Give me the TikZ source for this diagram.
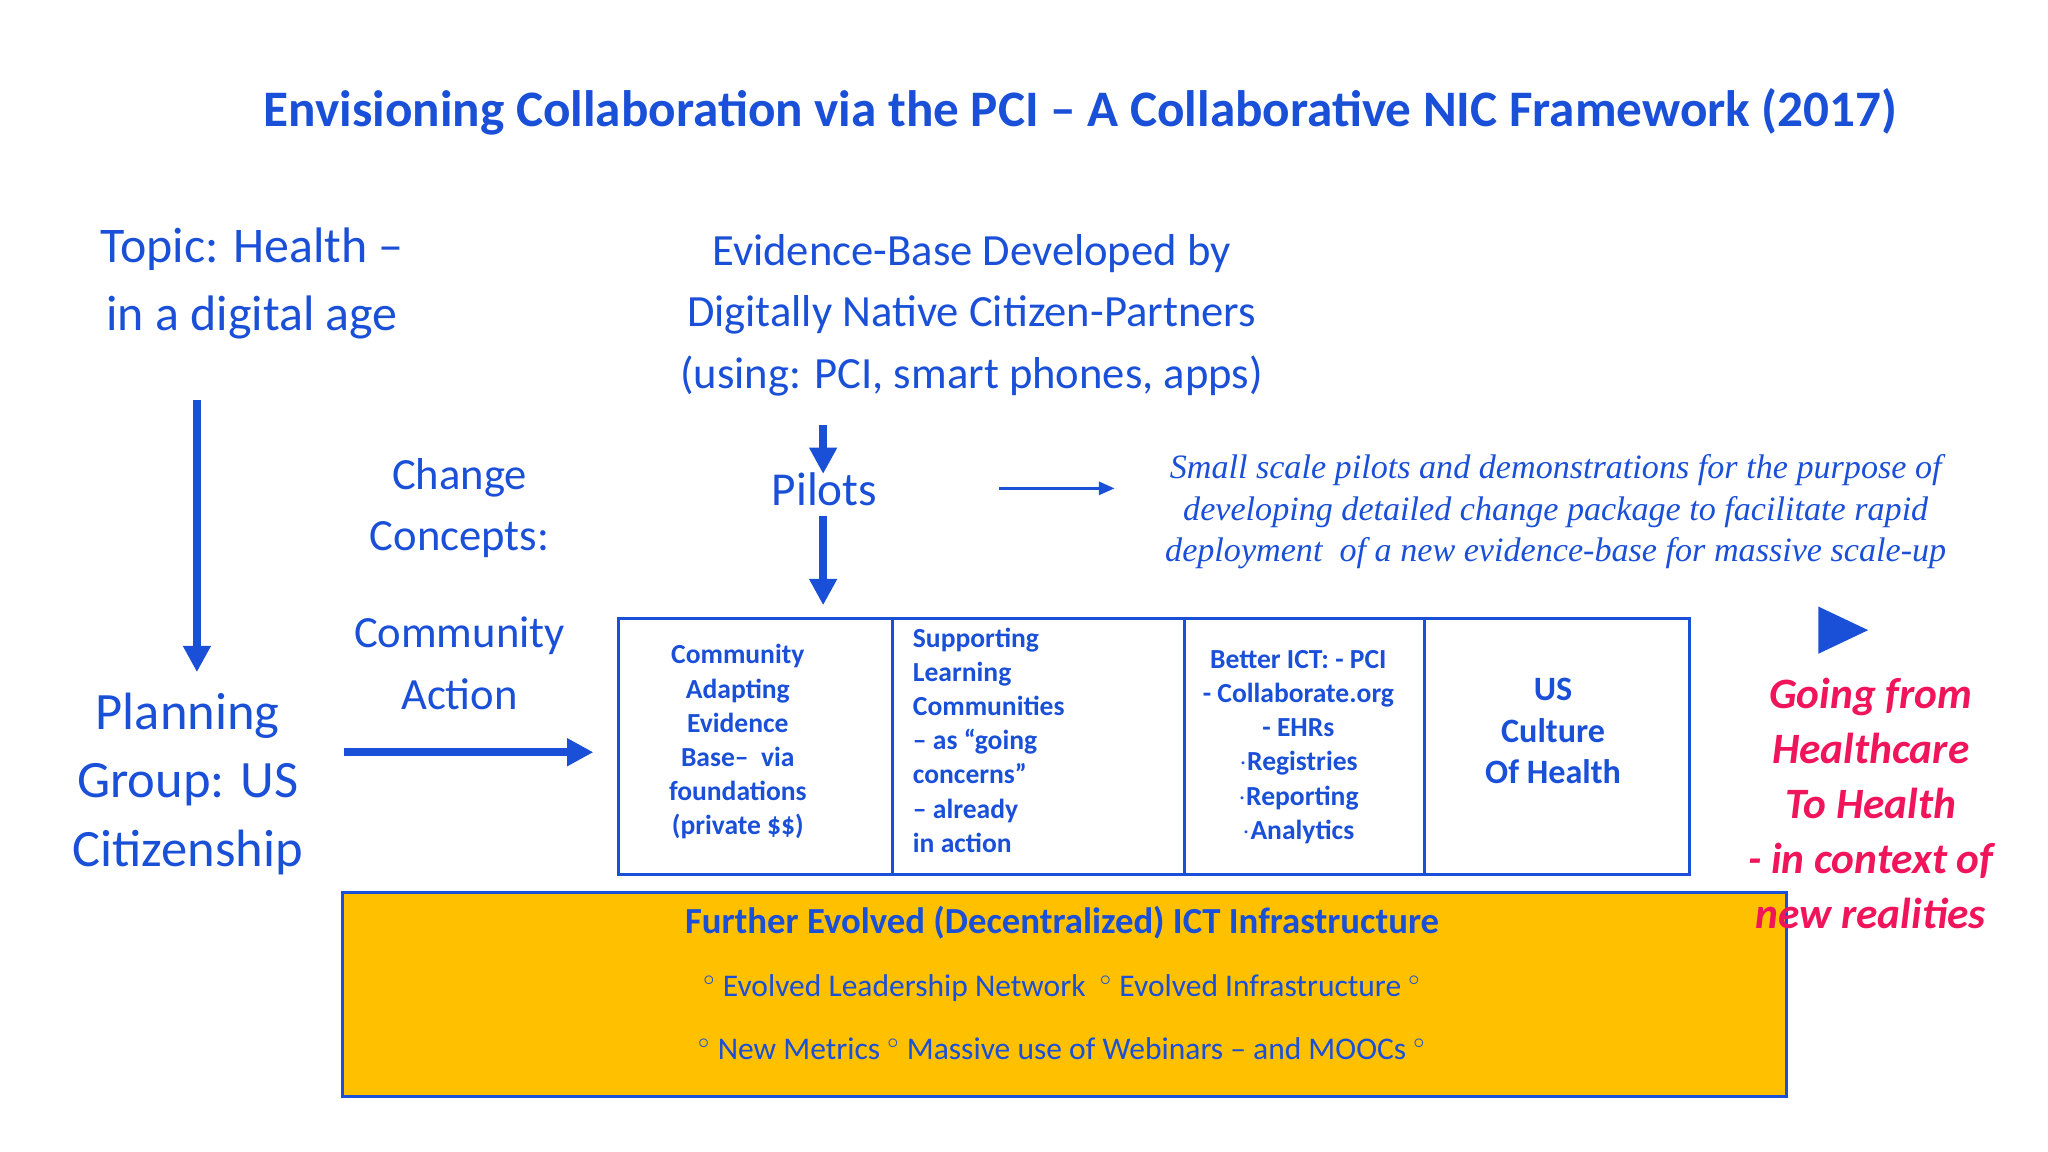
\documentclass[tikz,border=0pt]{standalone}
\usepackage{fontspec}
\setmainfont{Carlito}
\newfontfamily\serifit{Liberation Serif}
\usetikzlibrary{arrows.meta}
\definecolor{bl}{HTML}{1A4FD8}
\definecolor{rd}{HTML}{F0145A}
\definecolor{yl}{HTML}{FFC000}
\tikzset{
  lbl/.style={text=bl, align=center, inner sep=0pt},
  cell/.style={text=bl, font=\bfseries\fontsize{10.5}{13}\selectfont, inner sep=0pt},
  thick arrow/.style={draw=bl, line width=3pt, -{Triangle[length=10pt,width=10pt]}},
  thin arrow/.style={draw=bl, line width=1pt, -{Triangle[length=6pt,width=5pt]}},
}
\begin{document}
\begin{tikzpicture}[x=0.5pt,y=-0.5pt]
\useasboundingbox (0,0) rectangle (1560,877);
\node[lbl, font=\bfseries\fontsize{19.5}{23}\selectfont] (title) at (823,85) {Envisioning Collaboration via the PCI -- A Collaborative NIC Framework (2017)};
\node[lbl, font=\fontsize{19}{26}\selectfont] (topic) at (192,216) {Topic: Health --\\in a digital age};
\node[lbl, font=\fontsize{20}{26}\selectfont] (plan) at (143,597) {Planning\\Group: US\\Citizenship};
\node[lbl, font=\fontsize{17}{23.5}\selectfont] (cc) at (350,387) {Change\\Concepts:};
\node[lbl, font=\fontsize{17}{23.5}\selectfont] (ca) at (350,505) {Community\\Action};
\node[lbl, font=\fontsize{17}{23.5}\selectfont] (ev) at (740,240) {Evidence-Base Developed by\\Digitally Native Citizen-Partners\\(using: PCI, smart phones, apps)};
\node[lbl, font=\fontsize{18}{22}\selectfont] (pil) at (628,373) {Pilots};
\node[lbl, font=\serifit\itshape\fontsize{13}{15.8}\selectfont] (it) at (1185,390) {Small scale pilots and demonstrations for the purpose of\\developing detailed change package to facilitate rapid\\deployment\ \ of a new evidence-base for massive scale-up};
\coordinate (a1) at (150,305); \coordinate (a2) at (150,512);
\draw[thick arrow] (a1) -- (a2);
\coordinate (b1) at (262,573); \coordinate (b2) at (452,573);
\draw[thick arrow] (b1) -- (b2);
\coordinate (c1) at (627,324); \coordinate (c2) at (627,361);
\draw[thick arrow] (c1) -- (c2);
\coordinate (d1) at (627,393); \coordinate (d2) at (627,461);
\draw[thick arrow] (d1) -- (d2);
\coordinate (e1) at (761,372); \coordinate (e2) at (849,372);
\draw[thin arrow] (e1) -- (e2);
% boxes
\draw[bl, line width=1.2pt] (471,471) rectangle (1287,666);
\draw[bl, line width=1.2pt] (680,471) -- (680,666) (902,471) -- (902,666) (1085,471) -- (1085,666);
\node[cell, align=center] (k1) at (562,565) {Community\\Adapting\\Evidence\\Base--\ \ via\\foundations\\(private \$\$)};
\node[cell, align=left, anchor=north west] (k2) at (695,478) {Supporting\\Learning\\Communities\\-- as ``going\\concerns''\\-- already\\in action};
\node[cell, align=center] (k3) at (989,569) {Better ICT: - PCI\\- Collaborate.org\\- EHRs\\$\cdot$Registries\\$\cdot$Reporting\\$\cdot$Analytics};
\node[cell, align=center, font=\bfseries\fontsize{13}{15.8}\selectfont] (k4) at (1183,557) {US\\Culture\\Of Health};
% yellow
\draw[bl, fill=yl, line width=1.2pt] (261,680) rectangle (1361,835);
\node[lbl, font=\bfseries\fontsize{14}{16}\selectfont] (y1) at (809,703) {Further Evolved (Decentralized) ICT Infrastructure};
\node[lbl, font=\fontsize{12}{14}\selectfont] (y2) at (809,753) {$^\circ$ Evolved Leadership Network\ \ $^\circ$ Evolved Infrastructure $^\circ$};
\node[lbl, font=\fontsize{12}{14}\selectfont] (y3) at (809,799) {$^\circ$ New Metrics $^\circ$ Massive use of Webinars -- and MOOCs $^\circ$};
\fill[bl] (1385,462) -- (1423,480) -- (1385,498) -- cycle;
\node[text=rd, align=center, inner sep=0pt, font=\bfseries\itshape\fontsize{16.5}{20.9}\selectfont] (red) at (1425,612) {Going from\\Healthcare\\To Health\\- in context of\\new realities};
\end{tikzpicture}
\end{document}
